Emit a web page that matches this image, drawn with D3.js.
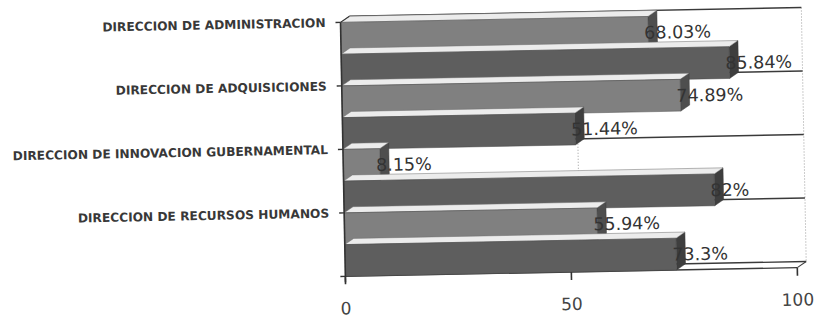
<!DOCTYPE html>
<html><head><meta charset="utf-8">
<script src="https://cdn.jsdelivr.net/npm/d3@7"></script>
<style>html,body{margin:0;padding:0;background:#fff}</style>
</head><body>
<svg id="c" width="815" height="319"></svg>
<script>
// ---- data ----
const categories = [
  "DIRECCION DE ADMINISTRACION",
  "DIRECCION DE ADQUISICIONES",
  "DIRECCION DE INNOVACION GUBERNAMENTAL",
  "DIRECCION DE RECURSOS HUMANOS"
];
const seriesNames = ["Serie 1", "Serie 2"];
const series1 = [68.03, 74.89, 8.15, 55.94];
const series2 = [85.84, 51.44, 82, 73.3];
const xTicks = [0, 50, 100];

// ---- layout ----
const svg = d3.select("#c");
const g = svg.append("g").attr("transform", "rotate(-1.1,570,150)");
const x = d3.scaleLinear().domain([0, 100]).range([343, 795]);
const y = d3.scaleBand().domain(categories).range([18, 272]);
const ys = d3.scaleBand().domain(seriesNames).range([0, y.bandwidth()]);
const DX = 9, DY = -6;
const frontFill = ["#808080", "#5e5e5e"];
const endFill = ["#4e4e4e", "#3e3e3e"];
const topFill = "#ececec";

const yTop = y.range()[0], yBot = y.range()[1];
const boundaries = categories.map(c => y(c)).concat([yBot]);

// back wall
g.append("rect").attr("x", x(0) + DX).attr("y", yTop + DY)
  .attr("width", x(100) - x(0)).attr("height", yBot - yTop).attr("fill", "#fff");
g.selectAll(".vgrid").data(xTicks.filter(t => t > 0)).join("line")
  .attr("x1", d => x(d) + DX).attr("x2", d => x(d) + DX)
  .attr("y1", yTop + DY).attr("y2", yBot + DY)
  .attr("stroke", "#9a9a9a").attr("stroke-width", 1).attr("stroke-dasharray", "1,2");
g.selectAll(".hgrid").data(boundaries).join("line")
  .attr("x1", x(0) + DX).attr("x2", x(100) + DX)
  .attr("y1", d => d + DY).attr("y2", d => d + DY)
  .attr("stroke", "#3a3a3a").attr("stroke-width", 1.4);
// floor edges
g.append("line").attr("x1", x(0)).attr("x2", x(100)).attr("y1", yBot).attr("y2", yBot)
  .attr("stroke", "#3a3a3a").attr("stroke-width", 1.4);
g.append("line").attr("x1", x(100)).attr("x2", x(100) + DX).attr("y1", yBot).attr("y2", yBot + DY)
  .attr("stroke", "#3a3a3a").attr("stroke-width", 1);
g.append("line").attr("x1", x(0)).attr("x2", x(0) + DX).attr("y1", yBot).attr("y2", yBot + DY)
  .attr("stroke", "#3a3a3a").attr("stroke-width", 1);

// bars
const rows = [];
categories.forEach((c, i) => {
  rows.push({ c, s: 0, v: series1[i] });
  rows.push({ c, s: 1, v: series2[i] });
});
rows.forEach(r => {
  const y0 = y(r.c) + ys(seriesNames[r.s]), h = ys.bandwidth();
  const x0 = x(0), x1 = x(r.v);
  const bg = g.append("g");
  bg.append("polygon")
    .attr("points", [[x1, y0], [x1 + DX, y0 + DY], [x1 + DX, y0 + h + DY], [x1, y0 + h]].join(" "))
    .attr("fill", endFill[r.s]).attr("stroke", "#3c3c3c").attr("stroke-width", 0.5);
  bg.append("polygon")
    .attr("points", [[x0, y0], [x0 + DX, y0 + DY], [x1 + DX, y0 + DY], [x1, y0]].join(" "))
    .attr("fill", topFill).attr("stroke", "#707070").attr("stroke-width", 0.5);
  bg.append("rect").attr("x", x0).attr("y", y0).attr("width", x1 - x0).attr("height", h)
    .attr("fill", frontFill[r.s]).attr("stroke", "#4a4a4a").attr("stroke-width", 0.5);
});

// left axis
g.append("line").attr("x1", x(0)).attr("x2", x(0)).attr("y1", yTop).attr("y2", yBot + 6)
  .attr("stroke", "#333").attr("stroke-width", 1.6);
g.append("line").attr("x1", x(0)).attr("x2", x(0) + DX).attr("y1", yTop).attr("y2", yTop + DY)
  .attr("stroke", "#333").attr("stroke-width", 1.2);
g.selectAll(".ytick").data(boundaries).join("line")
  .attr("x1", x(0) - 5).attr("x2", x(0)).attr("y1", d => d).attr("y2", d => d)
  .attr("stroke", "#333").attr("stroke-width", 1.4);
// bottom axis ticks
g.selectAll(".xtick").data(xTicks).join("line")
  .attr("x1", d => x(d)).attr("x2", d => x(d)).attr("y1", yBot).attr("y2", yBot + 8)
  .attr("stroke", "#333").attr("stroke-width", 1.6);
g.selectAll(".xlab").data(xTicks).join("text")
  .attr("x", d => x(d)).attr("y", yBot + 38).attr("text-anchor", "middle")
  .attr("font-family", "DejaVu Sans, Verdana, sans-serif").attr("font-size", 17)
  .attr("fill", "#444").text(d => d);

// category labels
g.selectAll(".clab").data(categories).join("text")
  .attr("x", 328).attr("y", d => y(d) + 4.5).attr("text-anchor", "end")
  .attr("font-family", "DejaVu Sans, Verdana, sans-serif").attr("font-weight", "bold")
  .attr("font-size", 12.2).attr("fill", "#383838").text(d => d);

// value labels
g.selectAll(".vlab").data(rows).join("text")
  .attr("x", d => x(d.v) - 4)
  .attr("y", d => y(d.c) + ys(seriesNames[d.s]) + ys.bandwidth() / 2 + 6.4)
  .attr("font-family", "DejaVu Sans, Verdana, sans-serif").attr("font-size", 17.5)
  .attr("fill", "#333").text(d => d.v + "%");
</script>
</body></html>
